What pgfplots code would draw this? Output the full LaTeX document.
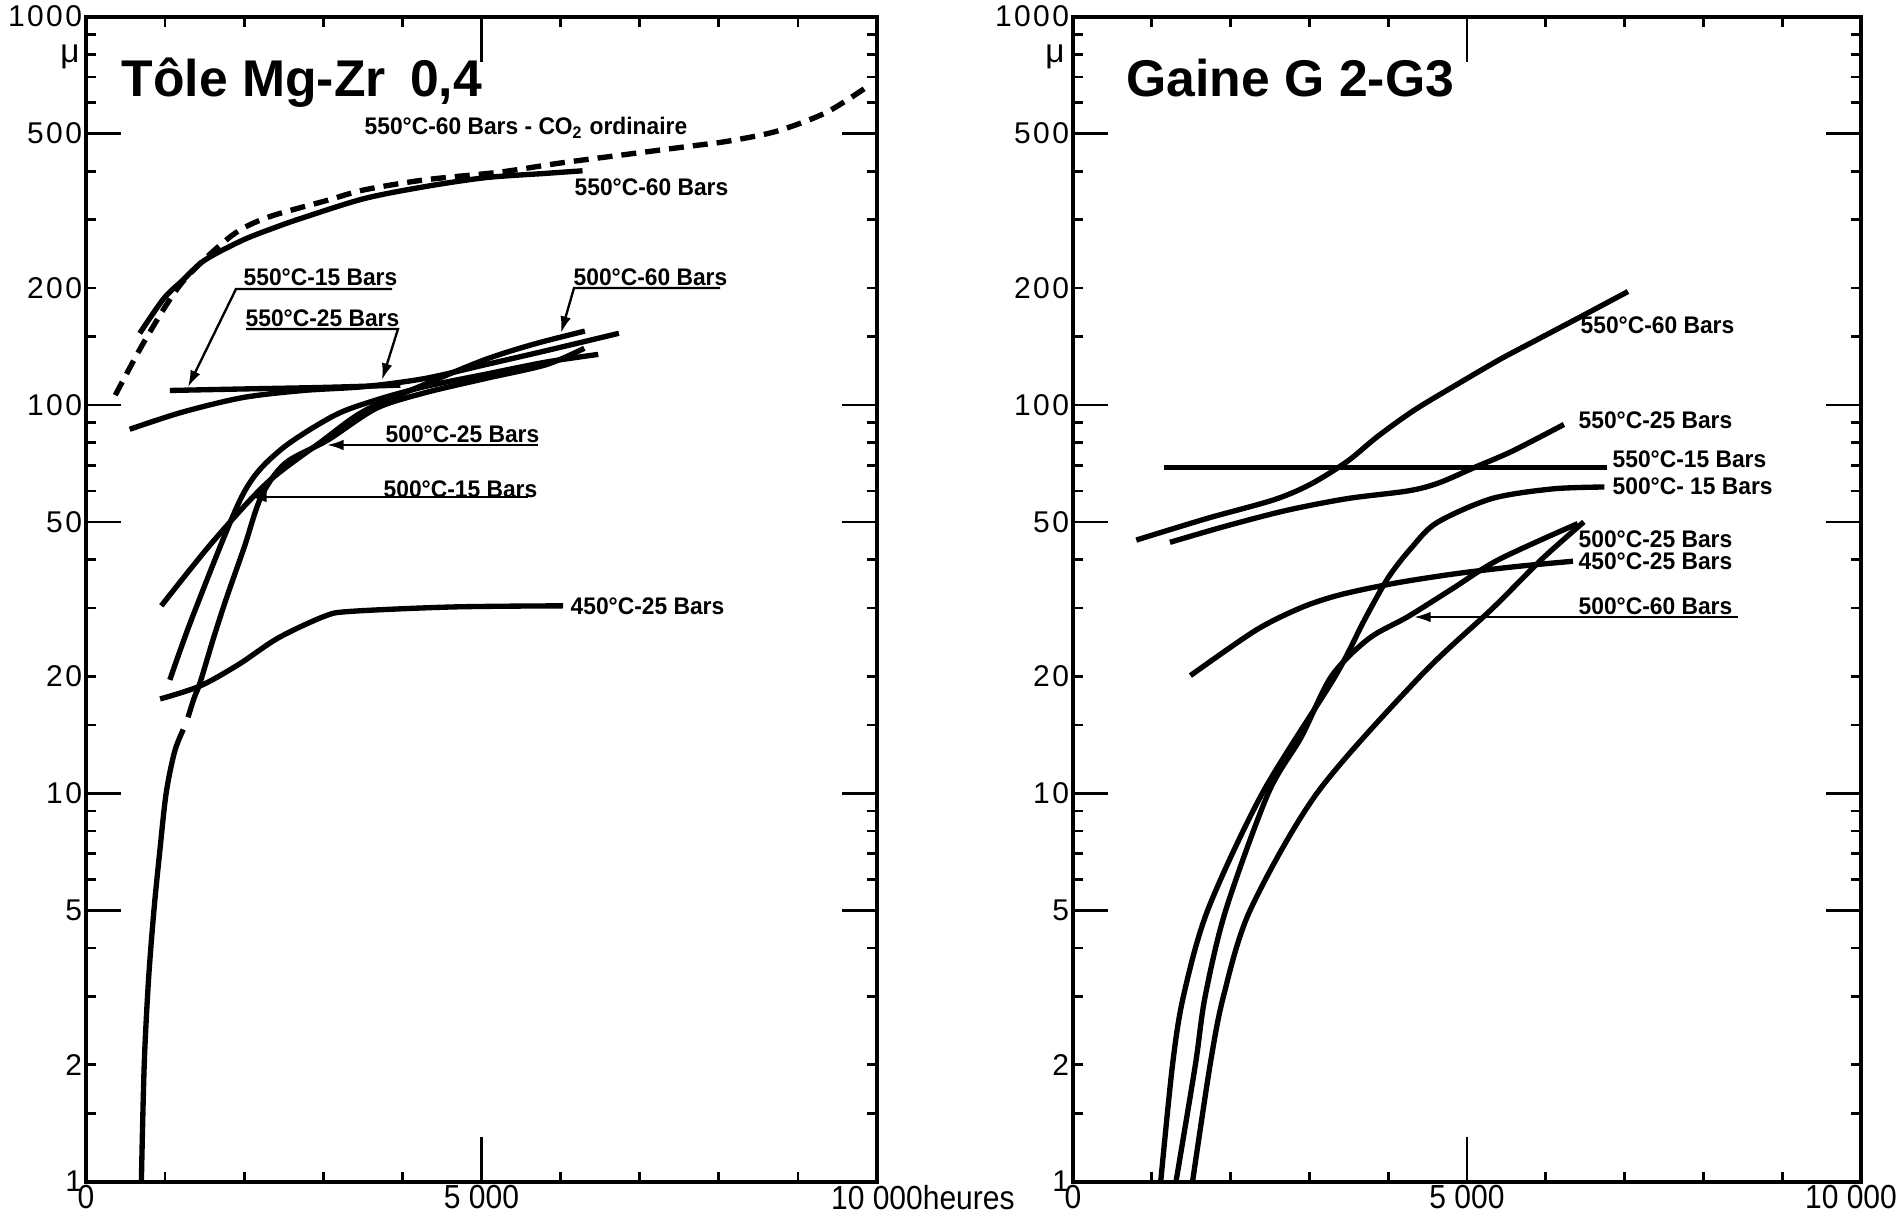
\documentclass[border=0pt]{standalone}
\usepackage{fontspec}
\setmainfont{Liberation Sans}
\newfontfamily\lblfont{Liberation Sans}[FakeStretch=0.95]
\newfontfamily\xtickfont{Liberation Sans}[FakeStretch=0.9]
\newfontfamily\ytickfont{Liberation Sans}[LetterSpace=8]
\usepackage{pgfplots}
\pgfplotsset{compat=1.18}
\usetikzlibrary{arrows.meta}

\tikzset{
  lbl/.style={anchor=west, inner sep=0pt, font=\lblfont\bfseries\fontsize{7.2}{8}\selectfont},
  lead/.style={line width=0.7pt, -{Latex[length=5pt,width=3.2pt]}},
  curve/.style={black, line width=1.6pt, mark=none, smooth},
}

\begin{document}
\begin{tikzpicture}
\path[use as bounding box] (0,0) rectangle (570.9pt,367.5pt);

% ---- Tole Mg-Zr 0,4 ----
\begin{axis}[at={(25.8pt,13pt)}, anchor=south west, width=237.3pt,
    scale only axis, height=349.5pt,
    xmin=0, xmax=10000, ymode=log, ymin=1, ymax=1000,
    scaled x ticks=false,
    axis line style={line width=1.3pt},
    tick align=inside,
    major tick length=3pt, minor tick length=3pt,
    tick style={black, line width=0.8pt},
    xtick={0,5000,10000},
    xticklabels={0,5\ 000,10\ 000\rlap{heures}},
    minor xtick={1000,2000,3000,4000,6000,7000,8000,9000},
    extra x ticks={5000}, extra x tick labels={},
    extra x tick style={major tick length=13.5pt},
    ytick={1,2,5,10,20,50,100,200,500,1000},
    yticklabels={1,2,5,10,20,50,100,200,500,1000},
    minor ytick={1.5,3,4,6,7,8,9,15,30,40,60,70,80,90,150,300,400,600,700,800,900},
    extra y ticks={5,10,50,100,500}, extra y tick labels={},
    extra y tick style={major tick length=10.5pt},
    yticklabel style={font=\ytickfont\fontsize{9}{10}\selectfont, inner xsep=1pt},
    xticklabel style={font=\xtickfont\fontsize{10}{11}\selectfont, inner ysep=1pt}]
% 550 C - 60 bars, ordinary CO2
\addplot[curve, dash pattern=on 4.5pt off 2.7pt, line width=1.6pt] coordinates {
 (370,106) (756,148) (1217,207) (1832,272) (2292,304) (3060,337) (3515,358)
 (4282,380) (5232,398) (6000,420) (6836,442) (7674,465) (8118,478) (8732,507)
 (9346,565) (9837,652)};
% 550 C - 60 bars
\addplot[curve] coordinates {
 (679,153) (983,188) (1217,209) (1500,236) (1985,266) (2400,287) (2753,304)
 (3515,340) (4282,365) (5049,385) (5817,395) (6277,401)};
% 550 C - 15 bars
\addplot[curve] coordinates {
 (1060,109) (2000,110) (3000,111) (3975,112.5)};
% 550 C - 25 bars
\addplot[curve] coordinates {
 (552,86.6) (1213,95.8) (1981,104.5) (2748,109) (3515,111.5) (4282,117)
 (5049,127) (5817,138) (6737,153)};
% 500 C - 60 bars
\addplot[curve] coordinates {
 (952,30.4) (1597,44.3) (2288,63) (2979,80.6) (3515,96.5) (4282,113)
 (5049,131) (5663,143.5) (6307,155)};
% 500 C - 25 bars
\addplot[curve] coordinates {
 (1060,19.6) (1367,29.2) (1981,58.7) (2441,76.1) (3131,93.8) (3668,103)
 (4282,111.5) (5049,120) (5817,129) (6476,135)};
% 500 C - 15 bars (lower part broken)
\addplot[curve] coordinates {
 (700,1) (736,2) (790,3.3) (859,5) (930,7) (1013,10) (1120,12.8) (1230,14.6)};
\addplot[curve] coordinates {
 (1290,15.7) (1367,17.6) (1443,19.3) (1612,25.1) (1775,31.8) (2000,43)
 (2215,58.1) (2518,70.8) (3055,81.2) (3668,98) (4282,107.5) (5049,117)
 (5817,127) (6300,140)};
% 450 C - 25 bars
\addplot[curve] coordinates {
 (937,17.5) (1443,18.9) (1934,21.5) (2426,25.1) (3001,28.5) (3331,29.4)
 (4636,30.2) (6032,30.4)};
\end{axis}

% ---- Gaine G2-G3 ----
\begin{axis}[at={(321.9pt,13pt)}, anchor=south west, width=236.4pt,
    scale only axis, height=349.5pt,
    xmin=0, xmax=10000, ymode=log, ymin=1, ymax=1000,
    scaled x ticks=false,
    axis line style={line width=1.3pt},
    tick align=inside,
    major tick length=3pt, minor tick length=3pt,
    tick style={black, line width=0.8pt},
    xtick={0,5000,10000},
    xticklabels={0,5\ 000,10\ 000\hspace*{6pt}},
    minor xtick={1000,2000,3000,4000,6000,7000,8000,9000},
    extra x ticks={5000}, extra x tick labels={},
    extra x tick style={major tick length=13.5pt},
    ytick={1,2,5,10,20,50,100,200,500,1000},
    yticklabels={1,2,5,10,20,50,100,200,500,1000},
    minor ytick={1.5,3,4,6,7,8,9,15,30,40,60,70,80,90,150,300,400,600,700,800,900},
    extra y ticks={5,10,50,100,500}, extra y tick labels={},
    extra y tick style={major tick length=10.5pt},
    yticklabel style={font=\ytickfont\fontsize{9}{10}\selectfont, inner xsep=1pt},
    xticklabel style={font=\xtickfont\fontsize{10}{11}\selectfont, inner ysep=1pt}]
% 550 C - 60 bars
\addplot[curve] coordinates {
 (803,44.9) (1695,51) (2548,57) (3013,62.5) (3477,71.5) (3866,83) (4331,97)
 (4873,113) (5416,131) (5881,147) (6424,168) (7043,196)};
% 550 C - 25 bars
\addplot[curve] coordinates {
 (1230,44.3) (1928,48.7) (2703,53.5) (3477,57.4) (4254,60.1) (4641,63)
 (5105,69.2) (5571,76) (6230,89.1)};
% 550 C - 15 bars
\addplot[curve] coordinates {(1152,69) (6773,69)};
% 500 C - 15 bars
\addplot[curve] coordinates {
 (1113,1) (1263,2) (1401,3) (1709,5) (2402,10) (3326,20) (3700,28) (4003,36)
 (4300,43) (4619,49.8) (5312,57.4) (6082,60.8) (6744,61.5)};
% 500 C - 60 bars
\addplot[curve] coordinates {
 (1307,1) (1553,2) (1677,3) (1938,5) (2477,10) (2900,14) (3278,20) (3750,25)
 (4249,28.5) (4800,33.5) (5404,40) (6405,49.5)};
% 500 C - 25 bars
\addplot[curve] coordinates {
 (1517,1) (1740,2) (1909,3) (2248,5) (3095,10) (4404,20) (5328,30) (5944,40)
 (6483,50)};
% 450 C - 25 bars
\addplot[curve] coordinates {
 (1490,20.1) (2320,26.3) (2900,30.1) (3400,32.5) (4096,34.8) (4866,36.8)
 (5636,38.4) (6345,39.6)};
\end{axis}

% ---- titles, unit marks and curve labels ----
\begin{scope}[x=0.3pt, y=-0.3pt, yshift=367.5pt]
\node[anchor=base west, inner sep=0pt, font=\bfseries\fontsize{15.5}{18}\selectfont] at (121,97) {Tôle Mg-Zr\hspace{3pt} 0,4};
\node[anchor=base west, inner sep=0pt, font=\bfseries\fontsize{15.5}{18}\selectfont] at (1126,97) {Gaine G 2-G3};
\node[font=\fontsize{10}{12}\selectfont] at (70,57) {μ};
\node[font=\fontsize{10}{12}\selectfont] at (1055,57) {μ};

\node[lbl] at (364,128) {550°C-60 Bars - CO\textsubscript{2} ordinaire};
\node[lbl] at (574,187) {550°C-60 Bars};
\node[lbl] at (243,277) {550°C-15 Bars};
\node[lbl] at (245,318) {550°C-25 Bars};
\node[lbl] at (573,277) {500°C-60 Bars};
\node[lbl] at (385,434) {500°C-25 Bars};
\node[lbl] at (383,489) {500°C-15 Bars};
\node[lbl] at (570,606) {450°C-25 Bars};
\draw[lead] (392,289) -- (236,289) -- (188,387);
\draw[lead] (246,329) -- (398,329) -- (382,380);
\draw[lead] (720,288) -- (574,288) -- (561,333);
\draw[lead] (538,445) -- (327,445);
\draw[lead] (528,497) -- (250,497);

\node[lbl] at (1580,325) {550°C-60 Bars};
\node[lbl] at (1578,420) {550°C-25 Bars};
\node[lbl] at (1612,459) {550°C-15 Bars};
\node[lbl] at (1612,486) {500°C- 15 Bars};
\node[lbl] at (1578,539) {500°C-25 Bars};
\node[lbl] at (1578,561) {450°C-25 Bars};
\node[lbl] at (1578,606) {500°C-60 Bars};
\draw[lead] (1738,617) -- (1414,617);
\end{scope}
\end{tikzpicture}
\end{document}
